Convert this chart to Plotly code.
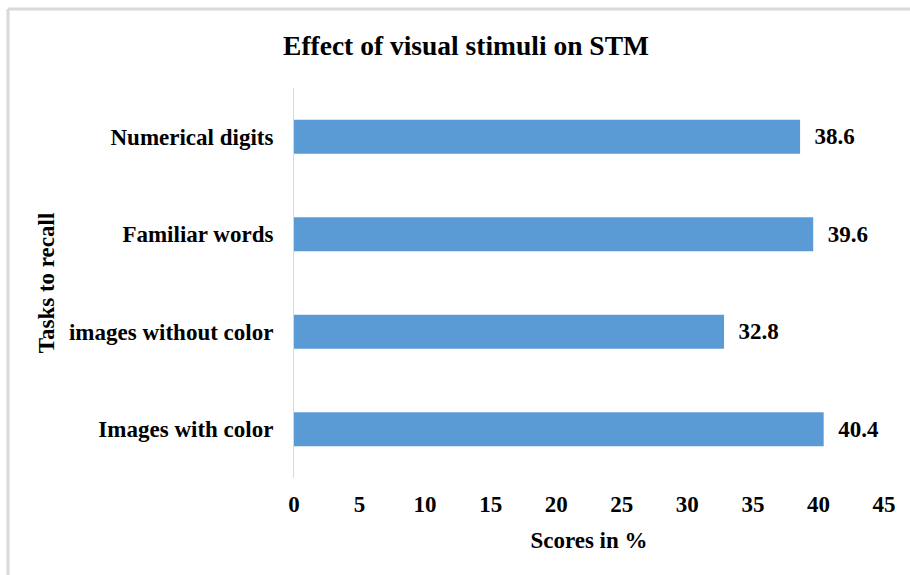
import plotly.graph_objects as go

categories = ["Images with color", "images without color", "Familiar words", "Numerical digits"]
scores = [40.4, 32.8, 39.6, 38.6]
x_ticks = [0, 5, 10, 15, 20, 25, 30, 35, 40, 45]

FONT = "Liberation Serif, Times New Roman, serif"
BAR = "#5B9BD5"

fig = go.Figure(go.Bar(
    y=categories,
    x=scores,
    orientation="h",
    marker=dict(color=BAR, line=dict(width=0)),
    text=[f"\u2002{v:.1f}" for v in scores],
    textposition="outside",
    textfont=dict(family=FONT, size=23, color="#000000", weight="bold"),
    cliponaxis=False,
    hoverinfo="x+y",
))

L, R, T, B = 294, 26, 88, 97
W, H = 910, 575
pw, ph = W - L - R, H - T - B

def px(xp):
    return (xp - L) / pw

def py(yp):
    return (H - B - yp) / ph

fig.update_layout(
    width=W, height=H,
    margin=dict(l=L, r=R, t=T, b=B, pad=0),
    paper_bgcolor="white",
    plot_bgcolor="white",
    bargap=0.65,
    showlegend=False,
    font=dict(family=FONT, color="#000000", size=23, weight="bold"),
    title=dict(
        text="Effect of visual stimuli on STM",
        x=466 / W, xanchor="center",
        y=1 - 45 / H, yanchor="middle",
        font=dict(family=FONT, size=27.5, color="#000000", weight="bold"),
    ),
    xaxis=dict(
        range=[0, 45],
        tickmode="array",
        tickvals=x_ticks,
        ticktext=[str(t) for t in x_ticks],
        showgrid=False,
        zeroline=False,
        showline=False,
        ticks="",
        ticklabelstandoff=10,
        tickfont=dict(family=FONT, size=23, weight="bold"),
        title=dict(text="Scores in %", standoff=15,
                   font=dict(family=FONT, size=23, weight="bold")),
        fixedrange=True,
    ),
    yaxis=dict(
        categoryorder="array",
        categoryarray=categories,
        showgrid=False,
        zeroline=False,
        showline=True,
        linecolor="#d9d9d9",
        linewidth=1,
        ticks="",
        ticklabelstandoff=15,
        tickfont=dict(family=FONT, size=23, weight="bold"),
        title=dict(text="Tasks to recall", standoff=7,
                   font=dict(family=FONT, size=23, weight="bold")),
        fixedrange=True,
    ),
    shapes=[
        dict(type="line", xref="paper", yref="paper",
             x0=px(8), x1=px(W + 5), y0=py(9), y1=py(9),
             line=dict(color="#d9d9d9", width=3)),
        dict(type="line", xref="paper", yref="paper",
             x0=px(8), x1=px(8), y0=py(9), y1=py(H + 5),
             line=dict(color="#d9d9d9", width=3)),
    ],
)

fig.write_html(
    "out.html",
    config={"displayModeBar": False},
    post_script="document.body.style.margin='0';document.body.style.overflow='hidden';",
)
